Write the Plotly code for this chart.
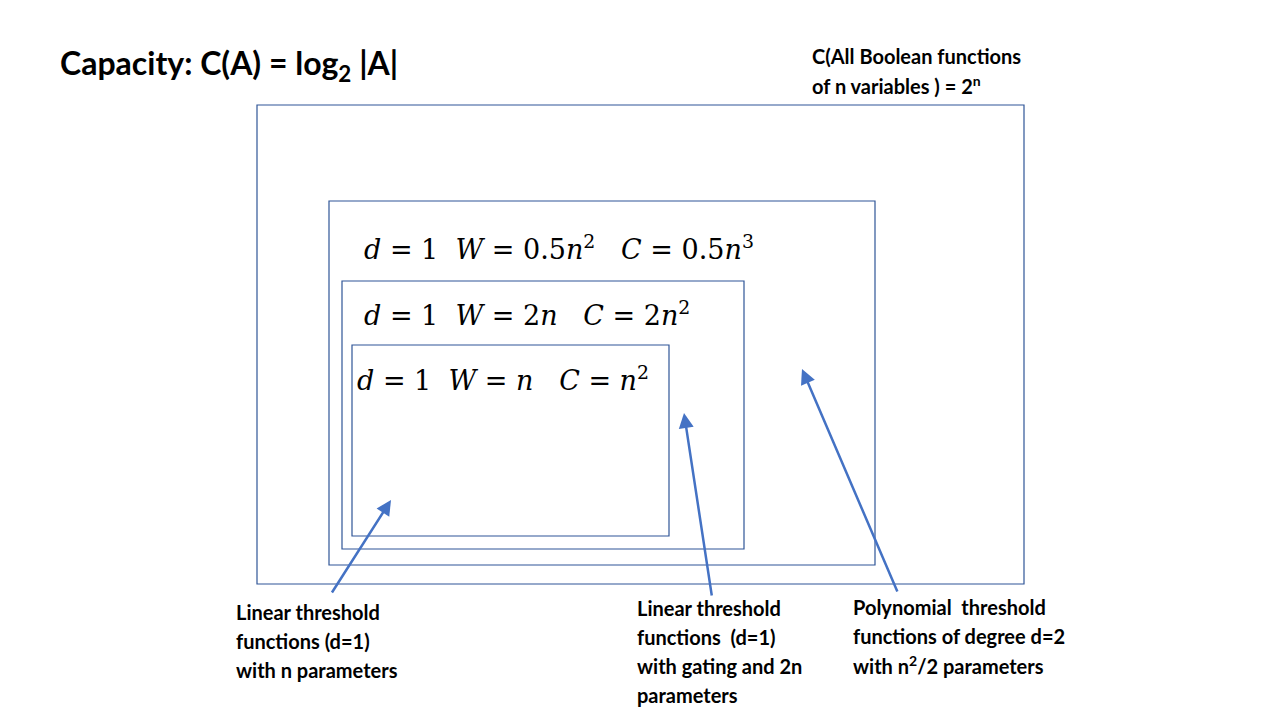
import plotly.graph_objects as go

# nested boxes (x0, y0, x1, y1) in slide pixels
boxes = [(257, 105, 1024, 584), (329, 201, 875, 565), (342, 281, 744, 549), (352, 345, 669, 536)]

formulas = [
    "<i>d</i> = 1  <i>W</i> = 0.5<i>n</i><sup>2</sup>   <i>C</i> = 0.5<i>n</i><sup>3</sup>",
    "<i>d</i> = 1  <i>W</i> = 2<i>n</i>   <i>C</i> = 2<i>n</i><sup>2</sup>",
    "<i>d</i> = 1  <i>W</i> = <i>n</i>   <i>C</i> = <i>n</i><sup>2</sup>",
]
formula_pos = [(362, 247), (362, 313), (355, 378)]

labels = [
    ["Linear threshold", "functions (d=1)", "with n parameters"],
    ["Linear threshold", "functions  (d=1)", "with gating and 2n", "parameters"],
    ["Polynomial  threshold", "functions of degree d=2", "with n<sup>2</sup>/2 parameters"],
]
label_pos = [(234, 612), (635, 608), (851, 607)]

# arrows: (head_x, head_y, tail_x, tail_y)
arrows = [(391, 500, 331, 594), (684, 413, 712, 597), (802, 369, 898, 593)]

bold = dict(family="Lato, Open Sans, sans-serif", color="black")

fig = go.Figure()
for x0, y0, x1, y1 in boxes:
    fig.add_shape(type="rect", x0=x0, y0=y0, x1=x1, y1=y1,
                  line=dict(color="#2F5597", width=1.2))

fig.add_annotation(x=58, y=65, text="<b>Capacity: C(A) = log<sub>2</sub> |A|</b>",
                   showarrow=False, xanchor="left", yanchor="middle", font=dict(size=32, **bold))
fig.add_annotation(x=810, y=56, text="<b>C(All Boolean functions</b>", showarrow=False,
                   xanchor="left", yanchor="middle", font=dict(size=20, **bold))
fig.add_annotation(x=810, y=85, text="<b>of n variables ) = 2<sup>n</sup></b>", showarrow=False,
                   xanchor="left", yanchor="middle", font=dict(size=20, **bold))

for txt, (x, y) in zip(formulas, formula_pos):
    fig.add_annotation(x=x, y=y, text=txt, showarrow=False, xanchor="left", yanchor="middle",
                       font=dict(size=27, family="DejaVu Serif, Liberation Serif, serif", color="black"))

for lines, (x, y) in zip(labels, label_pos):
    for i, line in enumerate(lines):
        fig.add_annotation(x=x, y=y + 29 * i, text="<b>" + line + "</b>", showarrow=False,
                           xanchor="left", yanchor="middle", font=dict(size=20, **bold))

for hx, hy, tx, ty in arrows:
    fig.add_annotation(x=hx, y=hy, ax=tx, ay=ty, xref="x", yref="y", axref="x", ayref="y",
                       text="", showarrow=True, arrowhead=2, arrowsize=1.2, arrowwidth=2.5,
                       arrowcolor="#4472C4")

# page body adds an 8px offset, so shift the ranges to compensate
fig.update_layout(
    width=1280, height=720, margin=dict(l=0, r=0, t=0, b=0),
    plot_bgcolor="white", paper_bgcolor="white", showlegend=False,
    xaxis=dict(range=[8, 1288], visible=False, fixedrange=True),
    yaxis=dict(range=[728, 8], visible=False, fixedrange=True),
)
fig.write_html("out.html")
